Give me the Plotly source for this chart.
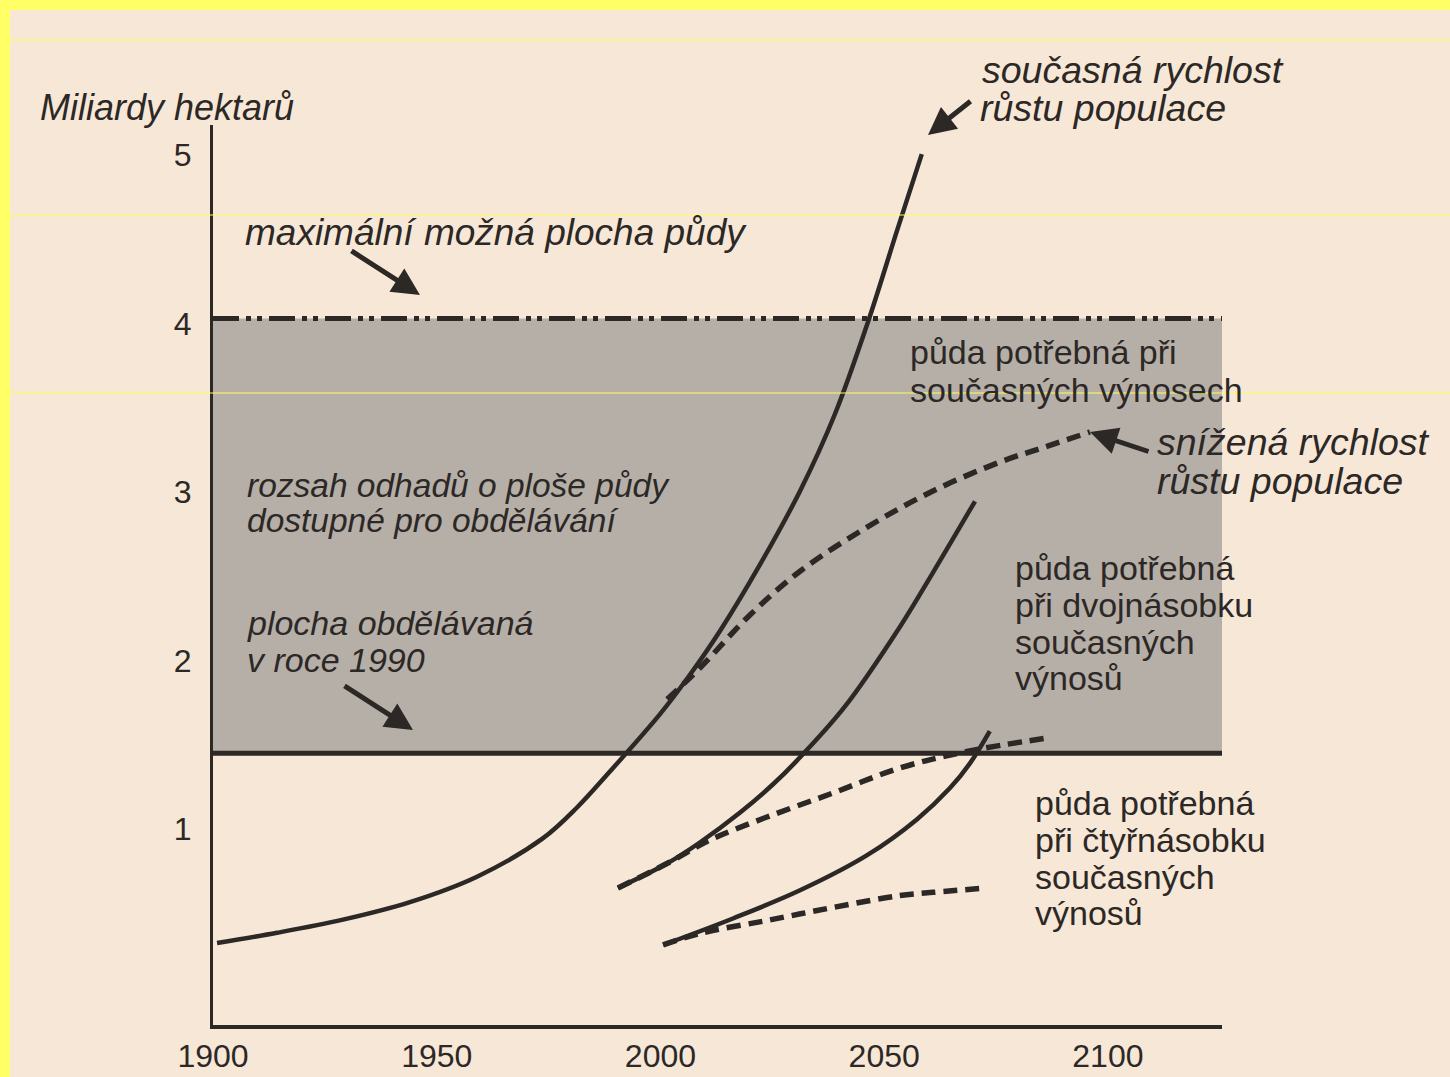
import plotly.graph_objects as go

# --- data (years, billions of hectares) ---
band_x = [1900, 2125.5]
max_land = 4.03         # maximum possible land area
cultivated_1990 = 1.45  # area cultivated in 1990

# current population growth, current yields
cur_yield_cur_x = [1900.9, 1914.3, 1929.05, 1944, 1959, 1973.7, 1981.3, 1988.7, 1999.9, 2005.9,
                   2013.3, 2022.2, 2031.2, 2039, 2046.4, 2052.8, 2058.4]
cur_yield_cur_y = [0.323, 0.384, 0.462, 0.566, 0.717, 0.944, 1.126, 1.341, 1.682, 1.89,
                   2.175, 2.567, 3.006, 3.463, 4.011, 4.545, 5.005]
# reduced growth, current yields
cur_yield_red_x = [2001.5, 2008.8, 2020, 2031.2, 2046.1, 2060.9, 2075.9, 2085.9, 2096]
cur_yield_red_y = [1.77, 1.955, 2.27, 2.53, 2.79, 3.006, 3.178, 3.267, 3.356]
# double yields
dbl_yield_cur_x = [1990.5, 2001.45, 2008.8, 2017.8, 2025.1, 2030.5, 2041.2, 2053.5, 2060.9, 2070.3]
dbl_yield_cur_y = [0.65, 0.795, 0.92, 1.098, 1.264, 1.406, 1.726, 2.199, 2.522, 2.945]
dbl_yield_red_x = [1990.5, 2001.45, 2011.1, 2023.8, 2038.5, 2053.5, 2068.5, 2086.4]
dbl_yield_red_y = [0.65, 0.795, 0.935, 1.071, 1.213, 1.362, 1.46, 1.54]
# quadruple yields
quad_yield_cur_x = [2000.6, 2016.2, 2031.2, 2046.1, 2057.3, 2064.7, 2069.2, 2073.6]
quad_yield_cur_y = [0.312, 0.469, 0.636, 0.843, 1.057, 1.243, 1.391, 1.581]
quad_yield_red_x = [2000.6, 2008.8, 2023.8, 2038.5, 2053.5, 2060.9, 2073]
quad_yield_red_y = [0.312, 0.38, 0.457, 0.534, 0.605, 0.624, 0.65]

x_ticks = [1900, 1950, 2000, 2050, 2100]
y_ticks = [1, 2, 3, 4, 5]

ink = "#2c2826"
paper = "#f7e7d7"
band = "#b6afa8"

fig = go.Figure()

# grey range of estimates
fig.add_trace(go.Scatter(x=band_x + band_x[::-1],
                         y=[cultivated_1990, cultivated_1990, max_land, max_land],
                         fill="toself", fillcolor=band, line=dict(width=0),
                         mode="lines", hoverinfo="skip"))
fig.add_trace(go.Scatter(x=band_x, y=[max_land, max_land], mode="lines",
                         line=dict(color=ink, width=5, dash="26px,7px,5px,6px,5px,7px")))
fig.add_trace(go.Scatter(x=band_x, y=[cultivated_1990, cultivated_1990], mode="lines",
                         line=dict(color=ink, width=5)))

solid = dict(color=ink, width=4.5, shape="spline", smoothing=1)
dashed = dict(color=ink, width=5.5, dash="14px,8px", shape="spline", smoothing=1)

for xs, ys, ln in [
    (cur_yield_red_x, cur_yield_red_y, dashed),
    (dbl_yield_red_x, dbl_yield_red_y, dashed),
    (quad_yield_red_x, quad_yield_red_y, dashed),
    (cur_yield_cur_x, cur_yield_cur_y, solid),
    (dbl_yield_cur_x, dbl_yield_cur_y, solid),
    (quad_yield_cur_x, quad_yield_cur_y, solid),
]:
    fig.add_trace(go.Scatter(x=xs, y=ys, mode="lines", line=ln))

# pixel -> paper helpers for placing labels
def pp_x(px):
    return (px - 213) / 1009

def pp_y(py):
    return (1025 - py) / 900

fam = "Liberation Sans, Arial"
ital = lambda s: dict(family=fam, size=s, color=ink, style="italic")
upr = dict(family=fam, size=34, color=ink)

lines = [
    ("Miliardy hektarů", 38, 108, ital(36)),
    ("maximální možná plocha půdy", 243, 232, ital(37)),
    ("současná rychlost", 980, 70, ital(37.5)),
    ("růstu populace", 978, 108, ital(37.5)),
    ("půda potřebná při", 908, 352, upr),
    ("současných výnosech", 908, 390, upr),
    ("snížená rychlost", 1155, 442, ital(37.5)),
    ("růstu populace", 1155, 481, ital(37.5)),
    ("rozsah odhadů o ploše půdy", 245, 485, ital(33.5)),
    ("dostupné pro obdělávání", 245, 520, ital(33.5)),
    ("plocha obdělávaná", 245, 623, ital(34)),
    ("v roce 1990", 245, 660, ital(34)),
    ("půda potřebná", 1013, 568, upr),
    ("při dvojnásobku", 1013, 605, upr),
    ("současných", 1013, 642, upr),
    ("výnosů", 1013, 678, upr),
    ("půda potřebná", 1033, 803, upr),
    ("při čtyřnásobku", 1033, 840, upr),
    ("současných", 1033, 877, upr),
    ("výnosů", 1033, 913, upr),
]
for t, x0, y0, f in lines:
    fig.add_annotation(xref="paper", yref="paper", x=pp_x(x0), y=pp_y(y0), text=t,
                       showarrow=False, xanchor="left", yanchor="middle", font=f)

arrows = [
    (420, 295, -70, -45),   # to max land line
    (928, 135, 44, -35),    # to current growth curve
    (1090, 432, 60, 20),    # to reduced growth curve
    (413, 730, -70, -45),   # to 1990 line
]
for tx, ty, ax, ay in arrows:
    fig.add_annotation(xref="paper", yref="paper", x=pp_x(tx), y=pp_y(ty), ax=ax, ay=ay,
                       text="", showarrow=True, arrowhead=2, arrowsize=1.1,
                       arrowwidth=5, arrowcolor=ink)

# scanner artefacts: yellow border and thin yellow streaks
shapes = [
    dict(type="rect", xref="paper", yref="paper", x0=-0.3, x1=1.3,
         y0=pp_y(10), y1=1.3, fillcolor="#ffff66", line_width=0, layer="above"),
    dict(type="rect", xref="paper", yref="paper", x0=-0.3, x1=pp_x(10),
         y0=-0.2, y1=1.3, fillcolor="#ffff66", line_width=0, layer="above"),
]
for py in [40, 215, 393]:
    shapes.append(dict(type="line", xref="paper", yref="paper",
                       x0=pp_x(10), x1=pp_x(1450), y0=pp_y(py), y1=pp_y(py),
                       line=dict(color="#ffff55", width=1), layer="above"))

tickfont = dict(family=fam, size=32, color=ink)
fig.update_layout(
    width=1450, height=1077,
    margin=dict(l=213, r=228, t=125, b=52),
    paper_bgcolor=paper, plot_bgcolor=paper,
    showlegend=False, shapes=shapes,
    xaxis=dict(range=[1900, 2125.5], tickvals=x_ticks, showgrid=False, zeroline=False,
               showline=True, linecolor=ink, linewidth=4, ticks="",
               tickfont=tickfont, automargin=False),
    yaxis=dict(range=[(997.5 - 1025) / 168.5, (997.5 - 125) / 168.5], tickvals=y_ticks,
               showgrid=False, zeroline=False, showline=True, linecolor=ink, linewidth=3,
               ticks="outside", ticklen=12, tickcolor=paper, tickfont=tickfont,
               automargin=False),
)

fig.write_html("out.html", config={"displayModeBar": False},
               post_script="document.body.style.margin='0';")
